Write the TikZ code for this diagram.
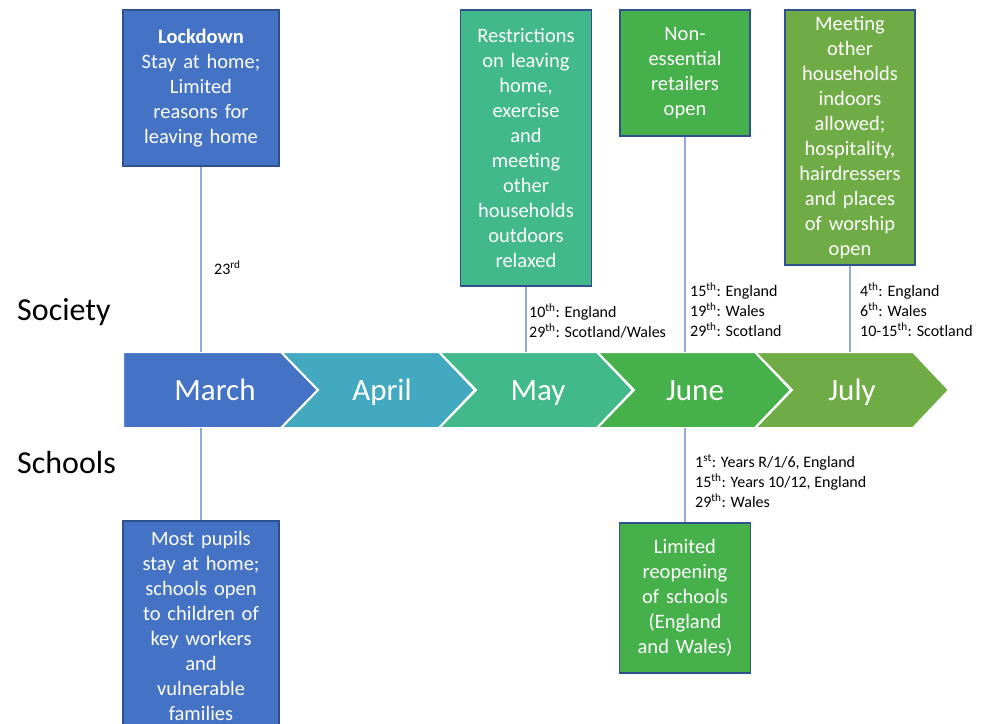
\documentclass[tikz,border=0pt]{standalone}
\usepackage{fontspec}
\setmainfont{Carlito}
\definecolor{marchblue}{HTML}{4472C4}
\definecolor{aprilteal}{HTML}{42A9C0}
\definecolor{maymint}{HTML}{41B98A}
\definecolor{junegreen}{HTML}{46B14B}
\definecolor{julyolive}{HTML}{6FAC45}
\definecolor{boxline}{HTML}{2F528F}
\definecolor{stemblue}{HTML}{8FAADC}
\tikzset{
	eventbox/.style={draw=boxline, line width=1.2pt, text=white, align=center,
		inner sep=0pt, font=\fontsize{20.5}{25}\selectfont},
	monthlabel/.style={text=white, minimum height=76pt, inner sep=0pt,
		text height=24pt, text depth=4pt, font=\fontsize{31}{36}\selectfont},
	stemline/.style={draw=stemblue, line width=1.1pt},
	datelabel/.style={anchor=west, align=left, inner sep=0pt,
		font=\fontsize{16}{20}\selectfont},
	rowlabel/.style={anchor=west, inner sep=0pt, font=\fontsize{32}{38}\selectfont}
}
\begin{document}
\begin{tikzpicture}[x=1pt, y=-1pt]
	\path[use as bounding box, clip] (0,0) rectangle (990,723);
	% Monate
	\filldraw[draw=white, line width=2pt, fill=marchblue] (123,352) -- (281,352)
	-- (318,390) -- (281,428) -- (123,428) -- cycle;
	\foreach \x/\col in {281/aprilteal, 439/maymint, 597/junegreen, 755/julyolive}
		\filldraw[draw=white, line width=2pt, fill=\col] (\x,352) -- ({\x+158},352)
		-- ({\x+194},390) -- ({\x+158},428) -- (\x,428) -- ({\x+37},390) -- cycle;
	\node[monthlabel] (march) at (215,390) {March};
	\node[monthlabel] (april) at (382,390) {April};
	\node[monthlabel] (may) at (538,390) {May};
	\node[monthlabel] (june) at (695,390) {June};
	\node[monthlabel] (july) at (852,390) {July};

	% Zeilen
	\node[rowlabel] (society) at (17,312) {Society};
	\node[rowlabel] (schools) at (17,463) {Schools};

	% Ereignisse oben
	\node[eventbox, fill=marchblue, text width=156pt, minimum height=156pt]
	(lockdown) at (201,88) {\textbf{Lockdown}\\Stay at home;\\Limited\\reasons
	for\\leaving home};
	\node[eventbox, fill=maymint, text width=131pt, minimum height=276pt]
	(relaxed) at (526,148) {Restrictions\\on leaving\\home,\\exercise\\and\\
	meeting\\other\\households\\outdoors\\relaxed};
	\node[eventbox, fill=junegreen, text width=130pt, minimum height=126pt]
	(retail) at (685,73) {Non-\\essential\\retailers\\open};
	\node[eventbox, fill=julyolive, text width=130pt, minimum height=255pt]
	(indoors) at (850,137.5) {Meeting\\other\\households\\indoors\\allowed;\\
	hospitality,\\hairdressers\\and places\\of worship\\open};

	% Ereignisse unten
	\node[eventbox, fill=marchblue, text width=156pt, minimum height=210pt]
	(pupils) at (201,626) {Most pupils\\stay at home;\\schools open\\to children
	of\\key workers\\and\\vulnerable\\families};
	\node[eventbox, fill=junegreen, text width=131pt, minimum height=150pt]
	(reopen) at (685,598) {Limited\\reopening\\of schools\\(England\\and Wales)};

	% Verbindungen
	\draw[stemline] (lockdown.south) -- (lockdown.south |- march.north);
	\draw[stemline] (relaxed.south) -- (relaxed.south |- may.north);
	\draw[stemline] (retail.south) -- (retail.south |- june.north);
	\draw[stemline] (indoors.south) -- (indoors.south |- july.north);
	\draw[stemline] (pupils.north) -- (pupils.north |- march.south);
	\draw[stemline] (reopen.north) -- (reopen.north |- june.south);

	% Daten
	\node[datelabel] (d-march) at (214,268) {23\textsuperscript{rd}};
	\node[datelabel] (d-may) at (529,321) {10\textsuperscript{th}: England\\
	29\textsuperscript{th}: Scotland/Wales};
	\node[datelabel] (d-june) at (690,310) {15\textsuperscript{th}: England\\
	19\textsuperscript{th}: Wales\\29\textsuperscript{th}: Scotland};
	\node[datelabel] (d-july) at (860,310) {4\textsuperscript{th}: England\\
	6\textsuperscript{th}: Wales\\10-15\textsuperscript{th}: Scotland};
	\node[datelabel] (d-schools) at (695,481) {1\textsuperscript{st}: Years
	R/1/6, England\\15\textsuperscript{th}: Years 10/12, England\\
	29\textsuperscript{th}: Wales};
\end{tikzpicture}
\end{document}
